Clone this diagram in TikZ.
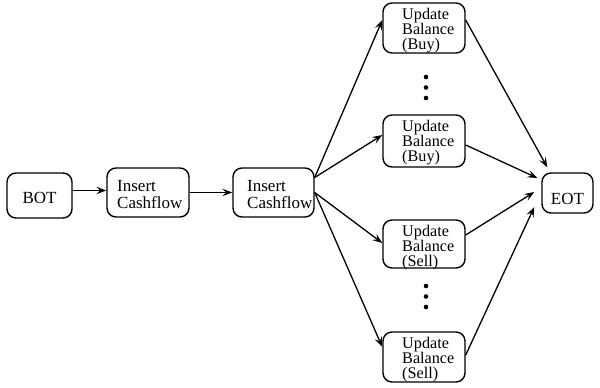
\documentclass[tikz,border=0pt]{standalone}
\usepackage{fontspec}
\setmainfont{Liberation Serif}
\usetikzlibrary{arrows.meta,calc}
\begin{document}
\begin{tikzpicture}[x=1pt,y=-1pt,
  box/.style={draw,rounded corners=9pt,line width=1.4pt,inner sep=0pt},
  lbl/.style={anchor=north west,inner sep=0pt,align=left},
  ubox/.style={box,minimum width=82pt,minimum height=50pt},
  ibox/.style={box,minimum width=82pt,minimum height=49pt},
  ufont/.style={font=\fontsize{16.2}{15}\selectfont},
  ifont/.style={font=\fontsize{17}{17}\selectfont},
  conn/.style={line width=1.3pt,-{Stealth[length=10pt,width=7.5pt,inset=4pt]}}]
\useasboundingbox (0,0) rectangle (600,388);
% boxes
\node[box,minimum width=65pt,minimum height=45pt] (bot) at (39.5,195.5) {};
\node[font=\fontsize{17}{17}\selectfont,inner sep=0pt] (bott) at (39.5,198) {BOT};
\node[ibox] (icf1) at (148,192.5) {};
\node[lbl,ifont] (icf1t) at (117,180) {Insert\\Cashflow};
\node[ibox,minimum width=81pt] (icf2) at (273.5,192.5) {};
\node[lbl,ifont] (icf2t) at (247,180) {Insert\\Cashflow};
\node[ubox] (u1) at (424,28) {};
\node[lbl,ufont] (u1t) at (402,8) {Update\\Balance\\(Buy)};
\node[ubox,minimum height=52pt] (u2) at (424,141) {};
\node[lbl,ufont] (u2t) at (402,120) {Update\\Balance\\(Buy)};
\node[ubox,minimum height=48pt] (u3) at (424,244) {};
\node[lbl,ufont] (u3t) at (402,225) {Update\\Balance\\(Sell)};
\node[ubox] (u4) at (424,357) {};
\node[lbl,ufont] (u4t) at (402,337) {Update\\Balance\\(Sell)};
\node[box,minimum width=51pt,minimum height=40pt] (eot) at (567.5,193) {};
\node[font=\fontsize{17}{17}\selectfont,inner sep=0pt] (eott) at (567.5,198.5) {EOT};
% dots
\foreach \y in {77,87.5,98} \fill (426,\y) circle (2.3pt);
\foreach \y in {286,296.5,307} \fill (426,\y) circle (2.3pt);
% connectors
\draw[conn] ([yshift=5pt]bot.east) -- ([yshift=2pt]icf1.west);
\draw[conn] (icf1.east) -- (icf2.west);
\draw[conn] ([yshift=15pt]icf2.east) -- ([yshift=8pt]u1.west);
\draw[conn] ([yshift=15pt]icf2.east) -- ([yshift=6pt]u2.west);
\draw[conn] (icf2.east) -- ([yshift=1pt]u3.west);
\draw[conn] (icf2.east) -- ([yshift=10pt]u4.west);
\draw[conn] ([yshift=8pt]u1.east) -- ([xshift=6pt,yshift=5pt]eot.north west);
\draw[conn] ([yshift=-4pt]u2.east) -- ([xshift=-4pt,yshift=15pt]eot.west);
\draw[conn] ([yshift=9pt]u3.east) -- ([xshift=-7pt,yshift=1pt]eot.west);
\draw[conn] ([yshift=2pt]u4.east) -- ([xshift=-7pt,yshift=-14pt]eot.west);
\end{tikzpicture}
\end{document}
